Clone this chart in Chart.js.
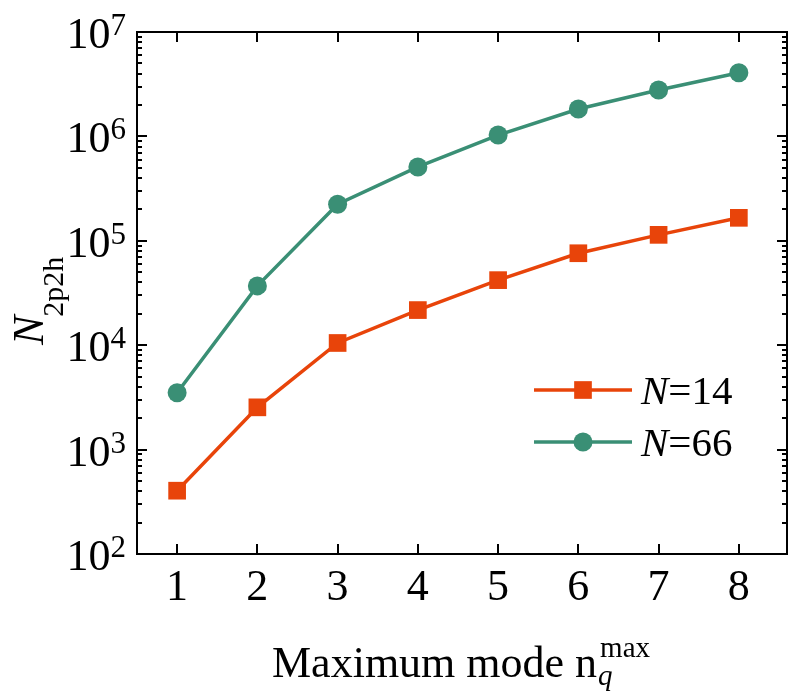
<!DOCTYPE html>
<html>
<head>
<meta charset="utf-8">
<script src="https://cdn.jsdelivr.net/npm/chart.js@4"></script>
<style>
  html, body { margin: 0; padding: 0; background: #fff; }
  canvas { display: block; }
</style>
</head>
<body>
<canvas id="myChart" width="789" height="698"></canvas>
<script>
// values
var nMax = [1, 2, 3, 4, 5, 6, 7, 8];
var n14 = [404, 2540, 10500, 21700, 42000, 76000, 114000, 166000];
var n66 = [3500, 37000, 224000, 510000, 1030000, 1830000, 2780000, 4070000];
var seriesNames = ['14', '66'];
var xTicks = [1, 2, 3, 4, 5, 6, 7, 8];
var yTickExps = [2, 3, 4, 5, 6, 7];

var orange = 'rgb(232, 68, 10)';
var green = 'rgb(58, 143, 117)';
var serif = '"Liberation Serif", "Times New Roman", serif';

function pts(ys) {
    return nMax.map(function (x, i) { return { x: x, y: ys[i] }; });
}

var framePlugin = {
    id: 'frame',
    afterDraw: function (chart) {
        var ctx = chart.ctx;
        var a = chart.chartArea;
        var xs = chart.scales.x, ys = chart.scales.y;
        ctx.save();
        ctx.strokeStyle = '#000';
        ctx.fillStyle = '#000';
        ctx.lineWidth = 2;
        ctx.strokeRect(a.left, a.top, a.right - a.left, a.bottom - a.top);

        // x ticks, bottom and top, pointing in
        xTicks.forEach(function (v) {
            var px = Math.round(xs.getPixelForValue(v));
            ctx.beginPath();
            ctx.moveTo(px, a.bottom); ctx.lineTo(px, a.bottom - 10);
            ctx.moveTo(px, a.top); ctx.lineTo(px, a.top + 10);
            ctx.stroke();
        });

        // y ticks, major and minor, both sides
        yTickExps.forEach(function (e) {
            for (var m = 1; m <= 9; m++) {
                var v = m * Math.pow(10, e);
                if (v > ys.max * 1.0001) break;
                var py = Math.round(ys.getPixelForValue(v));
                var len = m === 1 ? 10 : 5;
                ctx.beginPath();
                ctx.moveTo(a.left, py); ctx.lineTo(a.left + len, py);
                ctx.moveTo(a.right, py); ctx.lineTo(a.right - len, py);
                ctx.stroke();
            }
        });

        // x tick labels
        ctx.font = '44px ' + serif;
        ctx.textAlign = 'center';
        ctx.textBaseline = 'alphabetic';
        xTicks.forEach(function (v) {
            ctx.fillText(String(v), xs.getPixelForValue(v), a.bottom + 46);
        });

        // y tick labels 10^n
        yTickExps.forEach(function (e) {
            var py = ys.getPixelForValue(Math.pow(10, e));
            ctx.font = '31px ' + serif;
            var sw = ctx.measureText(String(e)).width;
            var supX = a.left - 11 - sw;
            ctx.textAlign = 'left';
            ctx.fillText(String(e), supX, py + 3);
            ctx.font = '44px ' + serif;
            ctx.textAlign = 'right';
            ctx.fillText('10', supX, py + 16);
        });

        // x axis title
        ctx.textAlign = 'left';
        ctx.font = '44px ' + serif;
        var t1 = 'Maximum mode n';
        var w1 = ctx.measureText(t1).width;
        var tx = 272, ty = 677;
        ctx.fillText(t1, tx, ty);
        ctx.font = 'italic 29px ' + serif;
        ctx.fillText('q', tx + w1 + 1, ty + 8);
        ctx.font = '29px ' + serif;
        ctx.fillText('max', tx + w1 + 3, ty - 20);

        // y axis title
        ctx.save();
        ctx.translate(43, 345);
        ctx.rotate(-Math.PI / 2);
        ctx.font = 'italic 44px ' + serif;
        var nw = ctx.measureText('N').width;
        ctx.fillText('N', 0, 0);
        ctx.font = '30px ' + serif;
        ctx.fillText('2p2h', nw - 1, 20);
        ctx.restore();

        // legend
        chart.data.datasets.forEach(function (ds, i) {
            var ly = a.top + 358 + i * 52;
            var lx0 = a.left + 397, lx1 = a.left + 495, mx = (lx0 + lx1) / 2;
            ctx.strokeStyle = ds.borderColor;
            ctx.lineWidth = ds.borderWidth;
            ctx.beginPath();
            ctx.moveTo(lx0, ly); ctx.lineTo(lx1, ly);
            ctx.stroke();
            ctx.fillStyle = ds.backgroundColor;
            Chart.helpers.drawPoint(ctx, {
                pointStyle: ds.pointStyle,
                radius: ds.pointRadius,
                rotation: 0,
                borderWidth: 0
            }, mx, ly);
            ctx.fillStyle = '#000';
            ctx.font = 'italic 41px ' + serif;
            var tx0 = lx1 + 9;
            ctx.fillText('N', tx0, ly + 14);
            var w = ctx.measureText('N').width;
            ctx.font = '41px ' + serif;
            ctx.fillText('=' + seriesNames[i], tx0 + w, ly + 14);
        });
        ctx.restore();
    }
};

var ctx = document.getElementById('myChart').getContext('2d');
var myChart = new Chart(ctx, {
    type: 'line',
    data: {
        datasets: [{
            label: 'N=14',
            data: pts(n14),
            borderColor: orange,
            backgroundColor: orange,
            borderWidth: 3.5,
            pointStyle: 'rect',
            pointRadius: 12.5,
            pointBorderWidth: 0,
            pointBackgroundColor: orange
        }, {
            label: 'N=66',
            data: pts(n66),
            borderColor: green,
            backgroundColor: green,
            borderWidth: 3.5,
            pointStyle: 'circle',
            pointRadius: 9.5,
            pointBorderWidth: 0,
            pointBackgroundColor: green
        }]
    },
    options: {
        responsive: false,
        animation: false,
        layout: { autoPadding: false, padding: { left: 137, top: 32, right: 2, bottom: 144 } },
        plugins: {
            legend: { display: false },
            tooltip: { enabled: false }
        },
        scales: {
            x: { type: 'linear', min: 0.5, max: 8.6, display: false },
            y: { type: 'logarithmic', min: 100, max: 1e7, display: false }
        }
    },
    plugins: [framePlugin]
});
</script>
</body>
</html>
